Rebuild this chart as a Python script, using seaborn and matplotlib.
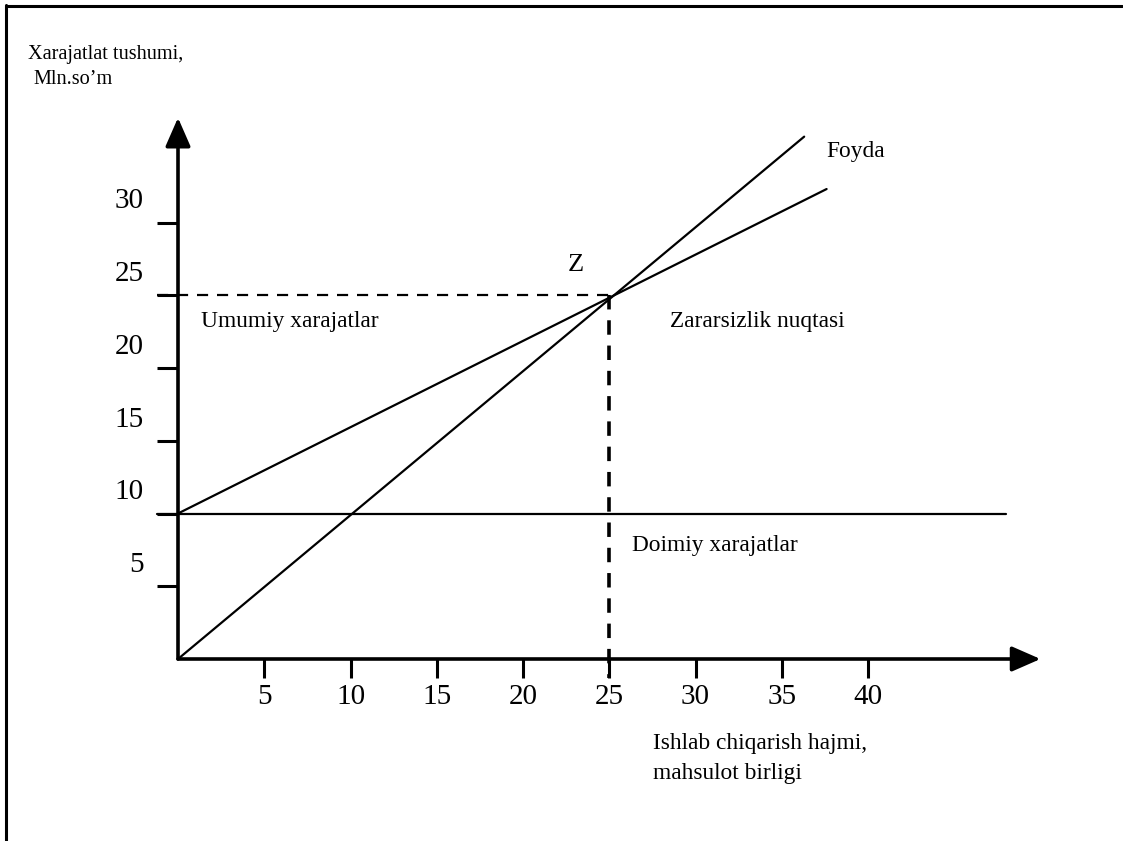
import matplotlib
matplotlib.use("Agg")
import matplotlib.pyplot as plt
from matplotlib.lines import Line2D
import seaborn as sns
import pandas as pd
import numpy as np

# ---- data ----
x_ticks = [5, 10, 15, 20, 25, 30, 35, 40]
y_ticks = [5, 10, 15, 20, 25, 30]
revenue_x = [0, 36.3]
revenue_y = [0, 35.9]
cost_x = [0, 37.6]
cost_y = [10, 32.3]
fixed_x = [0, 48]
fixed_y = [10, 10]
breakeven = (25, 25)

sns.set_theme(style="white")
plt.rcParams['font.family'] = ['Liberation Serif', 'DejaVu Serif']
plt.rcParams['text.color'] = 'black'

fig = plt.figure(figsize=(11.23, 8.41), dpi=100)
ax = fig.add_axes([0, 0, 1, 1])
ax.set_xlim(-178 / 17.25, (1123 - 178) / 17.25)
ax.set_ylim((659 - 841) / 14.55, 659 / 14.55)
ax.axis('off')

df = pd.concat([
    pd.DataFrame({'x': revenue_x, 'y': revenue_y, 's': 'revenue'}),
    pd.DataFrame({'x': cost_x, 'y': cost_y, 's': 'cost'}),
    pd.DataFrame({'x': fixed_x, 'y': fixed_y, 's': 'fixed'}),
])
sns.lineplot(data=df, x='x', y='y', units='s', estimator=None, color='black',
             linewidth=1.6, ax=ax, legend=False, sort=False)

# axes with arrows
arrow = dict(arrowstyle='-|>,head_length=0.8,head_width=0.35', lw=2.6, color='black',
             shrinkA=0, shrinkB=0, mutation_scale=22)
ax.annotate('', xy=(50, 0), xytext=(0, 0), arrowprops=arrow)
ax.annotate('', xy=(0, 37.2), xytext=(0, 0), arrowprops=arrow)

# fixed line extends through tick at left
ax.plot([-1.22, 0], [10, 10], color='black', lw=1.6)

# ticks
for t in y_ticks:
    ax.plot([-1.22, 0], [t, t], color='black', lw=2.2, solid_capstyle='butt')
    ax.text(-2.0, t + 0.55, str(t), ha='right', va='bottom', fontsize=21)
for t in x_ticks:
    ax.plot([t, t], [0, -1.3], color='black', lw=2.2, solid_capstyle='butt')
    ax.text(t, -1.75, str(t), ha='center', va='top', fontsize=21)

# dashed break-even lines
bx, by = breakeven
ax.plot([-1.22, bx], [by, by], color='black', lw=1.6, ls=(0, (5, 4)))
ax.plot([bx, bx], [by, -1.3], color='black', lw=2.6, ls=(0, (4, 3)))

# labels
def px(xp, yp):
    return ((xp - 178) / 17.25, (659 - yp) / 14.55)

fs = 16.8
ax.text(*px(28, 55), 'Xarajatlat tushumi,', fontsize=14.6, ha='left', va='center')
ax.text(*px(33, 80), 'Mln.so’m', fontsize=14.6, ha='left', va='center')
ax.text(*px(201, 322), 'Umumiy xarajatlar', fontsize=fs, ha='left', va='center')
ax.text(*px(670, 322), 'Zararsizlik nuqtasi', fontsize=fs, ha='left', va='center')
ax.text(*px(576, 265), 'Z', fontsize=19, ha='center', va='center')
ax.text(*px(826, 151), 'Foyda', fontsize=fs, ha='left', va='center')
ax.text(*px(632, 545), 'Doimiy xarajatlar', fontsize=fs, ha='left', va='center')
ax.text(*px(653, 744), 'Ishlab chiqarish hajmi,', fontsize=fs, ha='left', va='center')
ax.text(*px(653, 773), 'mahsulot birligi', fontsize=fs, ha='left', va='center')

# frame (top and left)
fig.add_artist(Line2D([6 / 1123, 1122 / 1123], [1 - 6 / 841, 1 - 6 / 841], color='black', lw=2.2,
                      transform=fig.transFigure))
fig.add_artist(Line2D([6 / 1123, 6 / 1123], [1 - 5 / 841, 0], color='black', lw=2.2,
                      transform=fig.transFigure))

fig.savefig('out.png', dpi=100)
